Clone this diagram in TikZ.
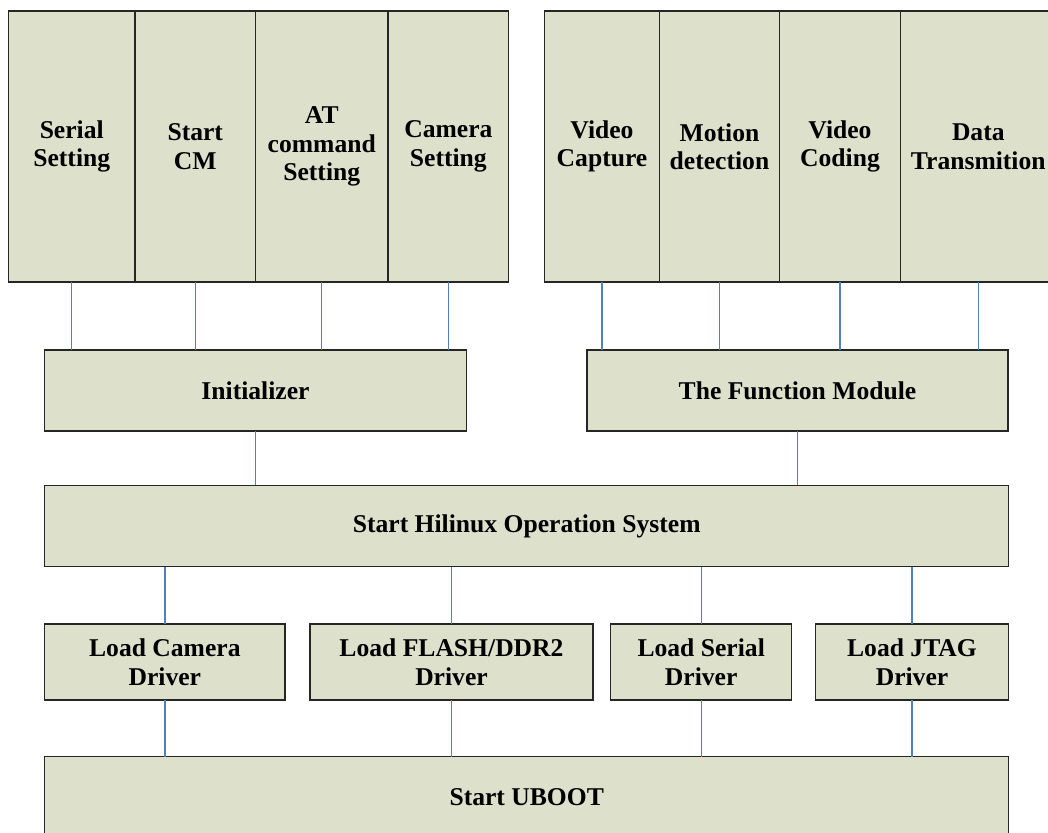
\documentclass[tikz,border=0pt]{standalone}
\usepackage{fontspec}
\setmainfont{Liberation Serif}
\definecolor{boxfill}{RGB}{221,225,204}
\definecolor{linkblue}{RGB}{79,129,189}
\tikzset{
	block/.style = {draw = black!85, fill = boxfill, line width = 1.2pt, inner sep = 0, outer sep = 0, align = center,
		font = \fontsize{25.6}{28.5}\selectfont\bfseries},
	link/.style = {draw = linkblue, line width = 1.3pt}
}
\begin{document}
\begin{tikzpicture}[x = 1pt, y = -1pt]
		\useasboundingbox (0, 0) rectangle (1048, 832);
		\clip (0, 0) rectangle (1048, 832);
		% top row, left group
		\node[block, minimum width = 126.5, minimum height = 271] (serial) at (71.75, 146.5) {Serial\\Setting};
		\node[block, minimum width = 120.5, minimum height = 271] (startcm) at (195.25, 146.5) {Start\\CM};
		\node[block, minimum width = 132.5, minimum height = 271] (atcmd) at (321.75, 146.5) {AT\\command\\Setting};
		\node[block, minimum width = 120.7, minimum height = 271] (camset) at (448.35, 146.5) {Camera\\Setting};
		% top row, right group
		\node[block, minimum width = 114.6, minimum height = 271] (capture) at (602, 146.5) {Video\\Capture};
		\node[block, minimum width = 120.4, minimum height = 271] (motion) at (719.5, 146.5) {Motion\\detection};
		\node[block, minimum width = 120.6, minimum height = 271] (coding) at (840, 146.5) {Video\\Coding};
		\node[block, minimum width = 156, minimum height = 271] (transmit) at (978.3, 146.5) {Data\\Transmition};
		% middle
		\node[block, minimum width = 421.6, minimum height = 81] (init) at (255.5, 390.5) {Initializer};
		\node[block, minimum width = 421, minimum height = 81] (funcmod) at (797.5, 390.5) {The Function Module};
		\node[block, minimum width = 964, minimum height = 81.4] (os) at (526.7, 526) {Start Hilinux Operation System};
		% drivers
		\node[block, minimum width = 240.3, minimum height = 76] (camdrv) at (164.85, 662) {Load Camera\\Driver};
		\node[block, minimum width = 283, minimum height = 76] (flashdrv) at (451.5, 662) {Load FLASH/DDR2\\Driver};
		\node[block, minimum width = 181, minimum height = 76] (serdrv) at (701.2, 662) {Load Serial\\Driver};
		\node[block, minimum width = 193.4, minimum height = 76] (jtagdrv) at (912, 662) {Load JTAG\\Driver};
		\node[block, minimum width = 964, minimum height = 81] (uboot) at (526.7, 797.2) {Start UBOOT};
		% links
		\foreach \n in {serial, startcm, atcmd, camset}{\draw[link] (\n) -- (\n |- init.north);}
		\foreach \n in {capture, motion, coding, transmit}{\draw[link] (\n) -- (\n |- funcmod.north);}
		\draw[link] (init) -- (init |- os.north);
		\draw[link] (funcmod) -- (funcmod |- os.north);
		\foreach \n in {camdrv, flashdrv, serdrv, jtagdrv}{
			\draw[link] (\n) -- (\n |- os.south);
			\draw[link] (\n) -- (\n |- uboot.north);
		}
	\end{tikzpicture}
\end{document}
